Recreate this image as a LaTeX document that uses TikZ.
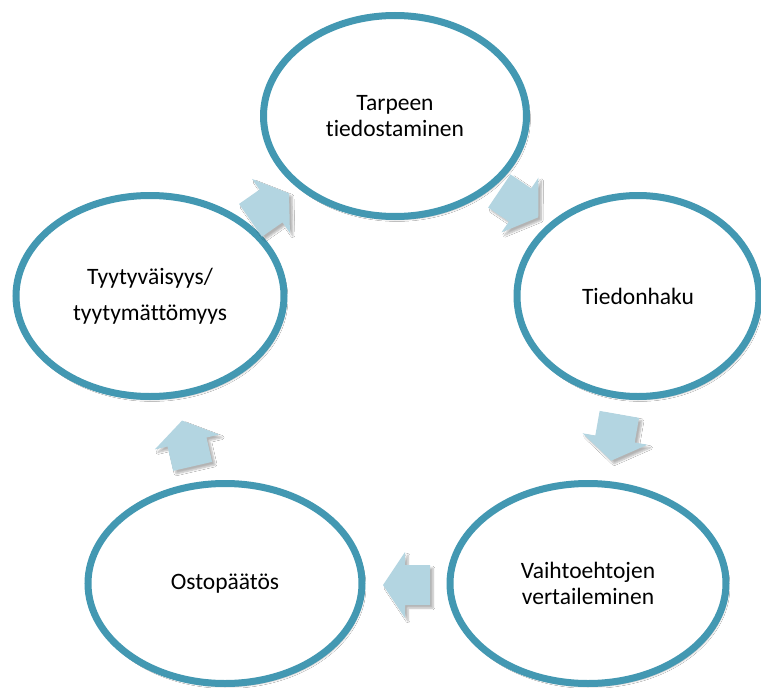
\documentclass[tikz,border=0pt]{standalone}
\usepackage{fontspec}
\setmainfont{Carlito}[Ligatures=NoCommon]
\usetikzlibrary{shapes.geometric,shadows.blur}
\definecolor{ringblue}{HTML}{4398B2}
\definecolor{arrowblue}{HTML}{B3D5E1}
\tikzset{
  stage/.style={ellipse, draw=ringblue, line width=7pt, fill=white, inner sep=0pt,
    align=center, font=\fontsize{23.5}{26}\selectfont,
    blur shadow={shadow xshift=2pt, shadow yshift=-3pt, shadow blur steps=6, shadow opacity=30}},
  cycarrow/.style={fill=arrowblue,
    blur shadow={shadow xshift=3pt, shadow yshift=-3pt, shadow blur steps=6, shadow opacity=30}},
}
\newcommand{\cycleshape}{(-25,-20) -- (0,-20) -- (0,-33) -- (22,0) -- (0,33) -- (0,20) -- (-25,20) -- cycle}
\begin{document}
\begin{tikzpicture}[x=1pt,y=-1pt]
\useasboundingbox[fill=white] (0,0) rectangle (761,688);
% stages
\node[stage, minimum width=263pt, minimum height=201pt] (need) at (395,116) {Tarpeen\\tiedostaminen};
\node[stage, minimum width=242pt, minimum height=201pt] (search) at (638,296) {Tiedonhaku};
\node[stage, minimum width=276pt, minimum height=200pt] (compare) at (588,583.5) {Vaihtoehtojen\\vertaileminen};
\node[stage, minimum width=274pt, minimum height=200pt] (buy) at (225,583.5) {Ostopäätös};
\node[stage, minimum width=268pt, minimum height=201pt, font=\fontsize{23.5}{36}\selectfont] (satisf) at (150,296) {Tyytyväisyys/\\tyytymättömyys};
% block arrows
\begin{scope}[shift={(271,206)}, rotate=35]
  \fill[cycarrow] \cycleshape;
\end{scope}
\begin{scope}[shift={(520,205)}, rotate=-34]
  \fill[cycarrow] \cycleshape;
\end{scope}
\begin{scope}[shift={(615,439)}, rotate=-100]
  \fill[cycarrow] \cycleshape;
\end{scope}
\begin{scope}[shift={(405,585)}, rotate=180]
  \fill[cycarrow] \cycleshape;
\end{scope}
\begin{scope}[shift={(187,442)}, rotate=103]
  \fill[cycarrow] \cycleshape;
\end{scope}
\end{tikzpicture}
\end{document}
